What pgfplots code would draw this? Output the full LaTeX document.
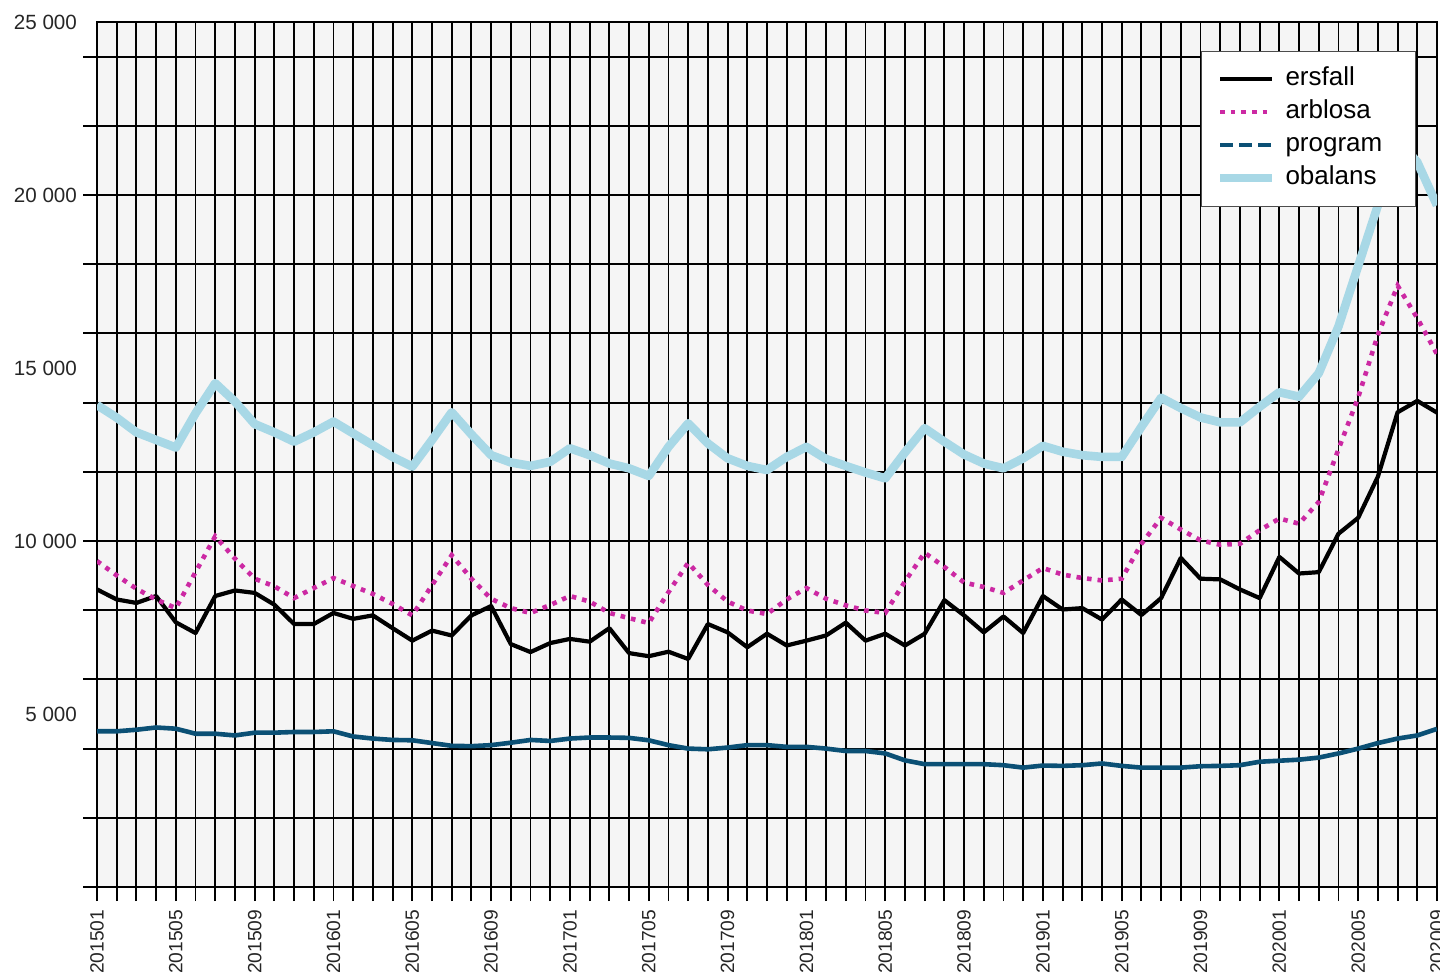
\documentclass[border=0pt]{standalone}
\usepackage{fontspec}
\setmainfont{Liberation Sans}
\usepackage{pgfplots}
\pgfplotsset{compat=1.18}
\usepackage{pgfplotstable}
\definecolor{bgc}{RGB}{245,245,245}
\definecolor{arbc}{RGB}{204,41,163}
\definecolor{proc}{RGB}{11,80,117}
\definecolor{obac}{RGB}{168,216,230}
\pgfplotsset{
  lineleg/.style={legend image code/.code={\draw[##1] (0pt,0pt) -- (26pt,0pt);\path (28.5pt,0pt);}},
  dashleg/.style={legend image code/.code={\draw[##1, dash pattern=on 6.5pt off 3pt] (0pt,0pt) -- (26pt,0pt);\path (28.5pt,0pt);}},
}

\pgfplotstableread{
i ers arb pro oba
0 8600 9420 4500 13930
1 8310 9006 4500 13565
2 8210 8620 4545 13140
3 8410 8310 4610 12920
4 7650 8060 4575 12700
5 7340 9100 4430 13690
6 8410 10136 4430 14560
7 8570 9490 4380 14030
8 8500 8910 4460 13380
9 8160 8690 4460 13140
10 7600 8350 4480 12870
11 7600 8640 4480 13140
12 7920 8930 4500 13450
13 7750 8700 4350 13110
14 7850 8470 4290 12770
15 7480 8180 4250 12430
16 7120 7850 4240 12150
17 7410 8720 4160 12920
18 7270 9590 4080 13720
19 7850 8910 4070 13080
20 8120 8330 4100 12480
21 7020 8060 4170 12270
22 6790 7920 4250 12170
23 7050 8150 4220 12290
24 7170 8410 4290 12680
25 7090 8250 4320 12480
26 7480 7920 4320 12240
27 6760 7770 4310 12100
28 6670 7630 4240 11880
29 6800 8520 4100 12720
30 6590 9370 4000 13400
31 7600 8730 3980 12820
32 7360 8250 4030 12390
33 6930 7990 4100 12170
34 7320 7890 4100 12050
35 6980 8310 4050 12430
36 7120 8640 4050 12720
37 7270 8330 4000 12370
38 7640 8140 3930 12170
39 7120 7990 3930 11980
40 7320 7920 3860 11810
41 6980 8830 3660 12560
42 7320 9660 3550 13260
43 8290 9250 3550 12870
44 7850 8800 3550 12500
45 7360 8670 3550 12240
46 7820 8500 3520 12100
47 7340 8860 3450 12390
48 8410 9220 3510 12750
49 8020 9030 3500 12580
50 8060 8930 3520 12480
51 7730 8860 3570 12430
52 8310 8910 3500 12430
53 7860 9920 3450 13300
54 8350 10670 3450 14140
55 9510 10330 3450 13840
56 8910 10020 3490 13570
57 8890 9890 3500 13430
58 8600 9920 3520 13430
59 8350 10310 3620 13880
60 9540 10650 3650 14300
61 9060 10500 3680 14170
62 9100 11130 3740 14850
63 10210 12650 3860 16200
64 10670 14150 4000 17950
65 11860 15960 4160 19700
66 13720 17380 4290 21600
67 14050 16440 4380 20950
68 13710 15400 4570 19700
}\data

\begin{document}
\begin{tikzpicture}
\begin{axis}[name=ax, scale only axis, width=670pt, height=432.5pt,
  xmin=0, xmax=68, ymin=0, ymax=25000,
  axis background/.style={fill=bgc},
  xtick={0,4,...,68},
  xticklabels={201501,201505,201509,201601,201605,201609,201701,201705,201709,201801,201805,201809,201901,201905,201909,202001,202005,202009},
  minor xtick={0,1,...,68},
  ytick={5000,10000,15000,20000,25000},
  yticklabels={5 000,10 000,15 000,20 000,25 000},
  minor ytick={0,2000,...,24000},
  grid=minor,
  minor grid style={black, line width=0.95pt},
  tick align=outside, tick pos=left,
  major tick length=0pt, minor tick length=7pt,
  every minor tick/.append style={black, line width=0.95pt},
  axis line style={black, line width=0.95pt},
  xticklabel style={rotate=90, anchor=east, font=\fontsize{9.6}{11}\selectfont, text=black!85},
  yticklabel style={font=\fontsize{10.3}{12}\selectfont, text=black!85},
  xticklabel shift=7.8pt, yticklabel shift=6.5pt,
  legend cell align=left,
  legend style={at={(1,1)}, anchor=north east, xshift=-10.5pt, yshift=-14.3pt,
    draw=black!70, line width=0.5pt, fill=white,
    font=\fontsize{13}{15}\selectfont, inner xsep=7pt, inner ysep=6pt,
    row sep=0.5pt, nodes={inner sep=2pt, text height=9.3pt, text depth=2.7pt}},
  lineleg,
]
\addplot[black, line width=2.1pt, line join=round] table[x=i, y=ers] {\data};
\addlegendentry{\makebox[56pt][l]{ersfall}}
\addplot[arbc, line width=2.3pt, dash pattern=on 2.3pt off 3pt] table[x=i, y=arb] {\data};
\addlegendentry{arblosa}
\addplot[proc, line width=2.3pt, line join=round, dashleg] table[x=i, y=pro] {\data};
\addlegendentry{program}
\addplot[obac, line width=4.3pt, line join=round] table[x=i, y=oba] {\data};
\addlegendentry{obalans}
\end{axis}
\pgfresetboundingbox
\path[use as bounding box] ([shift={(-48.5pt,-43.5pt)}]ax.south west) rectangle ([shift={(1.5pt,11pt)}]ax.north east);
\end{tikzpicture}
\end{document}
